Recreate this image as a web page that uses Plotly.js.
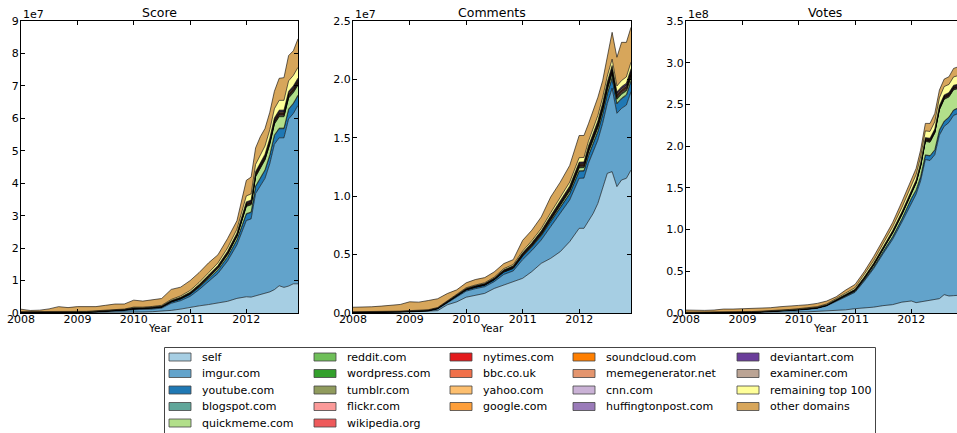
<!DOCTYPE html>
<html><head><meta charset="utf-8">
<script src="https://cdn.plot.ly/plotly-3.0.1.min.js"></script>
<style>html,body{margin:0;padding:0;overflow:hidden;background:#fff}#chart{width:1000px;height:433px}</style>
</head><body><div id="chart"></div>
<script>
// Time points (bimonthly to 2011, monthly in 2012); values in thousands
const dates = ['2008-01-01','2008-03-01','2008-05-01','2008-07-01','2008-09-01','2008-11-01',
 '2009-01-01','2009-03-01','2009-05-01','2009-07-01','2009-09-01','2009-11-01',
 '2010-01-01','2010-03-01','2010-05-01','2010-07-01','2010-09-01','2010-11-01',
 '2011-01-01','2011-03-01','2011-05-01','2011-07-01','2011-09-01','2011-11-01',
 '2012-01-01','2012-02-01','2012-03-01','2012-04-01','2012-05-01','2012-06-01',
 '2012-07-01','2012-08-01','2012-09-01','2012-10-01','2012-11-01','2012-12-01'];

const names = ['self','imgur.com','youtube.com','blogspot.com','quickmeme.com','reddit.com','wordpress.com','tumblr.com','flickr.com','wikipedia.org','nytimes.com','bbc.co.uk','yahoo.com','google.com','soundcloud.com','memegenerator.net','cnn.com','huffingtonpost.com','deviantart.com','examiner.com','remaining top 100','other domains'];
const colors = ['#a6cee3','#62a3cb','#1f78b4','#60a69a','#b2df8a','#6fbf59','#33a02c','#909b5d','#fb9a99','#ee5a5b','#e31a1c','#f0704a','#fdbf6f','#fe9f3a','#ff7f00','#e4956e','#cab2d6','#9a7bb9','#6a3d9a','#bba494','#ffff99','#d7a65b'];

const panelTitles = ['Score','Comments','Votes'];
const panelExponents = ['1e7','1e7','1e8'];
const xAxisLabel = 'Year';
const yearTicks = ['2008-01-01','2009-01-01','2010-01-01','2011-01-01','2012-01-01'];
const yearLabels = ['2008','2009','2010','2011','2012'];
const scoreTicks = [0,10000,20000,30000,40000,50000,60000,70000,80000,90000];
const scoreLabels = ['0','1','2','3','4','5','6','7','8','9'];
const commentTicks = [0,5000,10000,15000,20000,25000];
const commentLabels = ['0.0','0.5','1.0','1.5','2.0','2.5'];
const voteTicks = [0,50000,100000,150000,200000,250000,300000,350000];
const voteLabels = ['0.0','0.5','1.0','1.5','2.0','2.5','3.0','3.5'];

// ---- Score ----
const self_score = [100,100,100,100,100,100,100,100,200,200,200,300,300,300,400,500,800,1200,1800,2200,2600,3000,3600,4500,5000,4900,5300,5700,6000,6500,7200,8400,7900,8300,9000,9000];
const imgur_score = [0,0,0,0,0,0,30,50,100,200,300,400,700,700,800,1000,2200,2600,3300,5000,7200,9200,12400,16500,23500,24100,31500,33500,35500,39500,44800,45600,46100,51500,52500,55000];
const youtube_score = [100,100,100,100,100,100,100,100,100,200,200,200,300,300,300,300,400,500,600,700,800,1000,1200,1500,2000,2000,2200,2400,2500,2600,2700,2800,2800,2900,3000,3000];
const blogspot_score = [12,10,10,12,16,14,16,16,16,18,20,20,28,26,28,32,40,44,52,60,68,80,96,96,136,136,152,160,168,176,184,192,192,200,200,208];
const quickmeme_score = [0,0,0,0,0,0,0,0,0,0,0,0,0,0,0,0,0,50,100,200,300,500,700,1000,2200,2200,2800,3000,3000,3200,3300,3500,3500,3300,3200,3000];
const reddit_score = [11,9,9,11,14,13,14,14,14,15,18,18,25,23,25,28,35,39,46,53,60,70,84,84,119,119,133,140,147,154,161,168,168,175,175,182];
const wordpress_score = [8,6,7,8,10,9,10,10,10,11,13,13,18,17,18,20,25,28,33,38,43,50,60,60,85,85,95,100,105,110,115,120,120,125,125,130];
const tumblr_score = [8,6,7,9,13,12,14,15,16,18,21,22,30,29,31,35,44,48,56,64,72,84,100,100,140,140,156,164,172,180,188,196,196,204,204,212];
const flickr_score = [20,16,17,19,24,21,23,22,21,22,24,23,32,29,30,33,40,43,50,56,62,72,84,84,110,110,120,124,128,132,136,140,140,144,144,148];
const wikipedia_score = [9,7,8,9,12,11,12,12,12,13,15,15,21,20,21,24,30,33,39,45,51,60,72,72,102,102,114,120,126,132,138,144,144,150,150,156];
const nytimes_score = [7,6,6,7,9,8,9,8,8,9,10,10,14,13,14,16,20,22,26,30,34,40,48,48,68,68,76,80,84,88,92,96,96,100,100,104];
const bbc_score = [6,5,5,6,8,7,8,8,8,9,10,10,14,13,14,16,20,21,25,29,33,38,46,46,66,66,74,78,82,86,90,94,94,98,98,102];
const yahoo_score = [6,5,5,6,8,7,8,8,8,9,10,10,13,12,13,15,19,21,25,29,32,38,45,45,64,64,72,76,80,84,88,92,92,96,96,100];
const google_score = [5,4,5,6,8,7,8,8,8,9,10,10,14,13,14,16,20,22,26,30,34,40,48,48,68,68,76,80,84,88,92,96,96,100,100,104];
const soundcloud_score = [0,0,0,0,0,0,2,3,4,5,6,7,10,10,11,13,17,19,23,27,31,36,44,44,62,62,70,74,78,82,86,90,90,94,94,98];
const memegenerator_score = [0,0,0,0,0,0,0,0,0,0,0,5,15,18,22,28,40,50,65,75,85,100,120,120,170,170,190,200,210,220,230,240,240,250,250,260];
const cnn_score = [6,5,5,6,8,7,8,8,8,9,10,10,14,13,14,16,20,22,26,30,34,40,48,48,68,68,76,80,84,88,92,96,96,100,100,104];
const huffingtonpost_score = [3,3,3,4,5,5,6,6,7,8,9,9,13,12,13,15,19,21,25,29,33,39,47,47,67,67,75,79,83,87,91,95,95,99,99,103];
const deviantart_score = [18,14,16,18,24,22,24,24,24,26,30,30,42,40,42,48,60,66,78,90,102,120,144,144,204,204,228,240,252,264,276,288,288,300,300,312];
const examiner_score = [0,0,0,0,0,0,3,4,5,6,7,8,11,11,12,14,18,20,24,28,32,37,45,45,64,64,72,76,80,84,88,92,92,96,96,100];
const remaining_score = [100,100,100,100,100,100,100,100,100,100,100,100,200,200,200,200,300,400,500,600,700,800,1000,1200,1800,1900,2200,2400,2500,2600,2800,3000,3000,3200,3200,3300];
const other_score = [750,380,470,850,1500,1220,1470,1450,1300,1480,1750,1550,2150,1870,1950,2100,3100,2700,3050,3050,3050,2500,2900,2600,4800,5200,5100,5500,5400,5400,5400,6800,7000,7800,7600,8800];

// ---- Comments ----
const self_comments = [50,50,50,60,70,80,100,120,150,200,700,950,1350,1520,1680,2100,2400,2700,2970,3540,4250,4680,5250,6110,7250,7250,7820,8530,9390,10670,11960,12100,10820,11390,11530,12240];
const imgur_comments = [0,0,0,0,0,0,5,10,20,140,170,390,520,560,570,580,900,900,1600,1800,2000,2710,3280,3570,4280,4300,4990,5280,5420,5570,5990,7140,6280,6130,6270,6710];
const youtube_comments = [20,20,20,20,25,25,30,30,35,40,60,80,110,120,130,150,200,210,280,310,350,420,480,520,600,600,640,680,720,760,800,860,800,820,830,900];
const blogspot_comments = [2,2,2,3,3,4,4,4,5,6,7,9,11,12,13,14,18,19,24,27,30,35,38,42,46,46,49,51,54,58,61,64,61,62,64,66];
const quickmeme_comments = [0,0,0,0,0,0,0,0,0,0,0,0,0,0,0,0,0,10,30,50,80,110,150,200,250,250,280,300,300,320,330,350,330,320,310,300];
const reddit_comments = [2,2,2,2,3,3,4,4,4,5,6,8,10,11,11,13,15,17,21,24,27,31,34,36,41,41,43,45,48,50,53,56,53,55,56,58];
const wordpress_comments = [2,2,2,2,2,2,3,3,3,4,5,6,7,8,8,9,11,12,15,17,19,22,24,26,29,29,31,32,34,36,38,40,38,39,40,42];
const tumblr_comments = [1,1,2,2,3,3,4,4,4,5,7,8,11,12,13,14,18,19,24,27,30,35,38,42,46,46,49,51,54,58,61,64,61,62,64,66];
const flickr_comments = [4,4,4,4,5,5,6,6,6,7,8,9,11,12,12,13,16,17,21,23,26,29,32,34,38,38,40,42,44,46,48,50,48,49,50,52];
const wikipedia_comments = [2,2,2,2,2,3,3,3,4,4,5,7,8,9,10,11,13,14,18,20,23,26,29,31,35,35,37,38,41,43,46,48,46,47,48,50];
const nytimes_comments = [1,1,1,1,2,2,2,2,2,3,4,4,6,6,6,7,9,10,12,14,15,18,19,21,23,23,24,26,27,29,30,32,30,31,32,33];
const bbc_comments = [1,1,1,1,2,2,2,2,2,3,4,4,5,6,6,7,9,9,12,13,15,17,19,20,23,23,24,25,27,28,30,31,30,31,31,33];
const yahoo_comments = [1,1,1,1,1,2,2,2,2,3,3,4,5,6,6,7,8,9,11,13,15,17,18,20,22,22,23,25,26,28,29,31,29,30,31,32];
const google_comments = [1,1,1,1,2,2,2,2,2,3,4,4,6,6,6,7,9,10,12,14,15,18,19,21,23,23,24,26,27,29,30,32,30,31,32,33];
const soundcloud_comments = [0,0,0,0,0,0,1,1,1,2,2,3,4,4,5,5,7,8,10,11,13,15,16,18,20,20,21,22,24,25,27,28,27,27,28,29];
const memegenerator_comments = [0,0,0,0,0,0,0,0,0,0,0,2,6,7,8,10,14,18,24,30,36,44,48,52,58,58,61,64,68,72,76,80,76,78,80,83];
const cnn_comments = [1,1,1,1,2,2,2,2,2,3,4,4,6,6,6,7,9,10,12,14,15,18,19,21,23,23,24,26,27,29,30,32,30,31,32,33];
const huffingtonpost_comments = [1,1,1,1,1,1,2,2,2,3,3,4,6,6,6,7,9,10,12,14,16,18,20,21,24,24,25,27,28,30,31,33,31,32,33,34];
const deviantart_comments = [4,4,4,4,5,5,7,7,7,8,11,13,17,18,19,22,26,29,36,41,46,53,58,62,70,70,73,77,82,86,91,96,91,94,96,100];
const examiner_comments = [0,0,0,0,0,0,1,1,1,2,2,3,4,4,5,5,7,7,9,10,11,13,14,16,17,17,18,19,20,22,23,24,23,23,24,25];
const remaining_comments = [15,15,15,15,20,20,25,25,25,30,40,50,60,60,70,80,100,110,150,170,200,250,290,320,380,380,400,420,450,470,500,540,500,520,530,560];
const other_comments = [385,395,425,470,535,570,755,700,790,750,620,420,420,470,440,450,430,420,920,900,990,1350,1310,1430,1900,1880,1500,1530,1560,1440,1610,2300,2460,3270,2960,2980];

// ---- Votes ----
const self_votes = [400,400,400,400,500,500,600,600,700,800,900,1000,1200,1400,1800,2400,3000,3800,5200,6000,7000,8800,10000,13000,14400,12400,13200,14000,14800,15600,17200,22000,20400,20800,21200,21600];
const imgur_votes = [0,0,0,0,0,0,100,200,500,800,1100,1800,2400,3000,3800,6000,10600,15800,19600,32000,46000,62000,78000,96000,118000,130000,145000,170000,168000,174000,196000,201600,208000,216000,218000,220000];
const youtube_votes = [200,200,200,200,300,300,300,300,300,300,400,400,400,400,500,600,800,1000,1200,1600,2000,2400,3000,3600,4800,4800,5000,5200,5400,5600,5800,6000,6000,6200,6200,6400];
const blogspot_votes = [24,24,24,24,28,28,32,32,36,40,44,48,56,60,68,80,104,128,160,192,224,256,288,320,352,368,400,432,448,464,480,496,496,512,512,528];
const quickmeme_votes = [0,0,0,0,0,0,0,0,0,0,0,0,0,0,0,0,100,300,600,1200,2000,3000,4200,5000,6400,8000,12000,16000,16000,20000,24000,26000,24000,24000,23000,22000];
const reddit_votes = [21,21,21,21,25,25,28,28,32,35,39,42,49,53,60,70,91,112,140,168,196,224,252,280,308,322,350,378,392,406,420,434,434,448,448,462];
const wordpress_votes = [15,15,15,15,18,18,20,20,23,25,28,30,35,38,43,50,65,80,100,120,140,160,180,200,220,230,250,270,280,290,300,310,310,320,320,330];
const tumblr_votes = [20,20,20,22,26,26,30,31,35,40,44,48,56,60,68,80,104,128,160,192,224,256,288,320,352,368,400,432,448,464,480,496,496,512,512,528];
const flickr_votes = [40,40,39,38,42,41,45,44,48,52,56,60,68,72,80,92,116,140,170,200,230,260,290,320,350,360,385,410,420,430,440,450,450,460,460,470];
const wikipedia_votes = [18,18,18,18,21,21,24,24,27,30,33,36,42,45,51,60,78,96,120,144,168,192,216,240,264,276,300,324,336,348,360,372,372,384,384,396];
const nytimes_votes = [12,12,12,12,14,14,16,16,18,20,22,24,28,30,34,40,52,64,80,96,112,128,144,160,176,184,200,216,224,232,240,248,248,256,256,264];
const bbc_votes = [12,12,12,12,14,14,16,16,18,20,22,24,28,30,34,40,50,62,78,94,110,126,142,158,174,182,198,214,222,230,238,246,246,254,254,262];
const yahoo_votes = [11,11,11,11,13,13,15,15,17,19,21,23,27,29,33,39,50,61,77,92,107,123,138,154,169,177,192,208,215,223,231,238,238,246,246,254];
const google_votes = [12,12,12,12,14,14,16,16,18,20,22,24,28,30,34,40,52,64,80,96,112,128,144,160,176,184,200,216,224,232,240,248,248,256,256,264];
const soundcloud_votes = [0,0,0,0,0,0,4,6,8,10,12,14,18,20,24,30,40,50,64,78,92,106,120,134,148,156,170,184,192,200,208,216,216,224,224,232];
const memegenerator_votes = [0,0,0,0,0,0,0,0,0,0,0,10,30,38,48,62,90,120,160,200,240,290,340,390,440,460,500,540,560,580,600,620,620,640,640,660];
const cnn_votes = [12,12,12,12,14,14,16,16,18,20,22,24,28,30,34,40,52,64,80,96,112,128,144,160,176,184,200,216,224,232,240,248,248,256,256,264];
const huffingtonpost_votes = [8,8,8,9,11,11,13,13,15,17,19,21,25,27,31,37,49,61,77,93,109,125,141,157,173,181,197,213,221,229,237,245,245,253,253,261];
const deviantart_votes = [36,36,36,36,42,42,48,48,54,60,66,72,84,90,102,120,156,192,240,288,336,384,432,480,528,552,600,648,672,696,720,744,744,768,768,792];
const examiner_votes = [0,0,0,0,0,0,6,7,9,11,13,15,19,21,25,30,40,50,62,74,86,98,110,122,134,140,152,164,170,176,182,188,188,194,194,200];
const remaining_votes = [200,200,200,200,250,250,300,300,350,400,450,500,600,650,750,900,1200,1500,1800,2400,3000,3600,4400,5200,6000,6400,7200,8000,8200,8600,9200,10000,9800,10000,10200,10400];
const other_votes = [2500,2100,2100,2500,3400,3400,3500,3400,3700,3600,4200,3700,3900,3800,3900,3500,2600,3600,4000,4000,4800,4600,5200,6800,7600,7400,8200,9000,9600,10000,9400,9000,9200,10200,10600,10600];

// Table (stack order bottom -> top) built from the named arrays
const scoreSeries = [self_score,imgur_score,youtube_score,blogspot_score,quickmeme_score,reddit_score,wordpress_score,tumblr_score,flickr_score,wikipedia_score,nytimes_score,bbc_score,yahoo_score,google_score,soundcloud_score,memegenerator_score,cnn_score,huffingtonpost_score,deviantart_score,examiner_score,remaining_score,other_score];
const commentSeries = [self_comments,imgur_comments,youtube_comments,blogspot_comments,quickmeme_comments,reddit_comments,wordpress_comments,tumblr_comments,flickr_comments,wikipedia_comments,nytimes_comments,bbc_comments,yahoo_comments,google_comments,soundcloud_comments,memegenerator_comments,cnn_comments,huffingtonpost_comments,deviantart_comments,examiner_comments,remaining_comments,other_comments];
const voteSeries = [self_votes,imgur_votes,youtube_votes,blogspot_votes,quickmeme_votes,reddit_votes,wordpress_votes,tumblr_votes,flickr_votes,wikipedia_votes,nytimes_votes,bbc_votes,yahoo_votes,google_votes,soundcloud_votes,memegenerator_votes,cnn_votes,huffingtonpost_votes,deviantart_votes,examiner_votes,remaining_votes,other_votes];
const panels = [scoreSeries, commentSeries, voteSeries];

const FONT = 'DejaVu Sans, sans-serif';
const axisRefs = [['x','y'],['x2','y2'],['x3','y3']];
const traces = [];
panels.forEach((series, m) => {
  series.forEach((vals, i) => {
    traces.push({
      type: 'scatter', mode: 'lines', x: dates, y: vals,
      xaxis: axisRefs[m][0], yaxis: axisRefs[m][1],
      stackgroup: 'g' + m, name: names[i],
      line: {color: '#000', width: 0.6},
      fillcolor: colors[i], showlegend: false, hoverinfo: 'skip'
    });
  });
});

// Geometry (pixels): plot area 21..963 horizontally, 21..313 vertically
const W = 1000, H = 433, ML = 21, MR = 37, MT = 21, MB = 120;
const PW = W - ML - MR, PH = H - MT - MB;
const px2x = px => (px - ML) / PW;
const py2y = py => (H - MB - py) / PH;
const domains = [[0, 277/PW], [332/PW, 610/PW], [665/PW, 1]];

const common = {
  showline: true, linecolor: '#000', linewidth: 1, mirror: 'ticks',
  ticks: 'inside', ticklen: 4, tickwidth: 1, tickcolor: '#000',
  showgrid: false, zeroline: false, automargin: false, fixedrange: true,
  tickfont: {family: FONT, size: 11, color: '#000'}
};
function xaxis(m) {
  return Object.assign({}, common, {
    type: 'date', domain: domains[m], anchor: axisRefs[m][1],
    range: ['2008-01-01', '2012-12-01'], ticklabelstandoff: -4,
    tickmode: 'array', tickvals: yearTicks, ticktext: yearLabels
  });
}
const yTickSets = [[scoreTicks, scoreLabels, 90000], [commentTicks, commentLabels, 25000], [voteTicks, voteLabels, 350000]];
function yaxis(m) {
  return Object.assign({}, common, {
    anchor: axisRefs[m][0], range: [0, yTickSets[m][2]], ticklabelstandoff: -1,
    tickmode: 'array', tickvals: yTickSets[m][0], ticktext: yTickSets[m][1]
  });
}

const annotations = [];
const shapes = [];
panelTitles.forEach((t, m) => {
  const cx = (domains[m][0] + domains[m][1]) / 2;
  annotations.push({xref: 'paper', yref: 'paper', x: cx, y: 1,
    xanchor: 'center', yanchor: 'bottom', yshift: -1, text: t, showarrow: false,
    font: {family: FONT, size: 12.5, color: '#000'}});
  annotations.push({xref: 'paper', yref: 'paper', x: domains[m][0], y: 1,
    xanchor: 'left', yanchor: 'bottom', yshift: -2, text: panelExponents[m], showarrow: false,
    font: {family: FONT, size: 11, color: '#000'}});
  annotations.push({xref: 'paper', yref: 'paper', x: cx, y: py2y(328),
    xanchor: 'center', yanchor: 'middle', text: xAxisLabel, showarrow: false,
    font: {family: FONT, size: 10.5, color: '#000'}});
});

// Legend (column-major, 5 columns)
shapes.push({type: 'rect', xref: 'paper', yref: 'paper', x0: px2x(164.5), x1: px2x(875.5),
  y0: py2y(445), y1: py2y(347.5), line: {color: '#444', width: 1}, fillcolor: '#fff', layer: 'above'});
const colStart = [0, 5, 10, 14, 18, 22];
const colX = [169, 314, 450, 573, 737];
const rowY = [357, 373.5, 390, 406.5, 423];
names.forEach((n, i) => {
  let c = 0; while (i >= colStart[c + 1]) c++;
  const r = i - colStart[c];
  const sx = colX[c], sy = rowY[r];
  shapes.push({type: 'rect', xref: 'paper', yref: 'paper', x0: px2x(sx), x1: px2x(sx + 22),
    y0: py2y(sy + 4), y1: py2y(sy - 4), fillcolor: colors[i], line: {color: '#444', width: 0.8}, layer: 'above'});
  annotations.push({xref: 'paper', yref: 'paper', x: px2x(sx + 31), y: py2y(sy), xanchor: 'left', yanchor: 'middle',
    text: n, showarrow: false, font: {family: FONT, size: 11, color: '#000'}});
});

const layout = {
  width: W, height: H, margin: {l: ML, r: MR, t: MT, b: MB, pad: 0},
  paper_bgcolor: '#fff', plot_bgcolor: '#fff', showlegend: false,
  font: {family: FONT, color: '#000'},
  xaxis: xaxis(0), xaxis2: xaxis(1), xaxis3: xaxis(2),
  yaxis: yaxis(0), yaxis2: yaxis(1), yaxis3: yaxis(2),
  annotations: annotations, shapes: shapes
};
Plotly.newPlot('chart', traces, layout, {displayModeBar: false, staticPlot: true});
</script>
</body></html>
